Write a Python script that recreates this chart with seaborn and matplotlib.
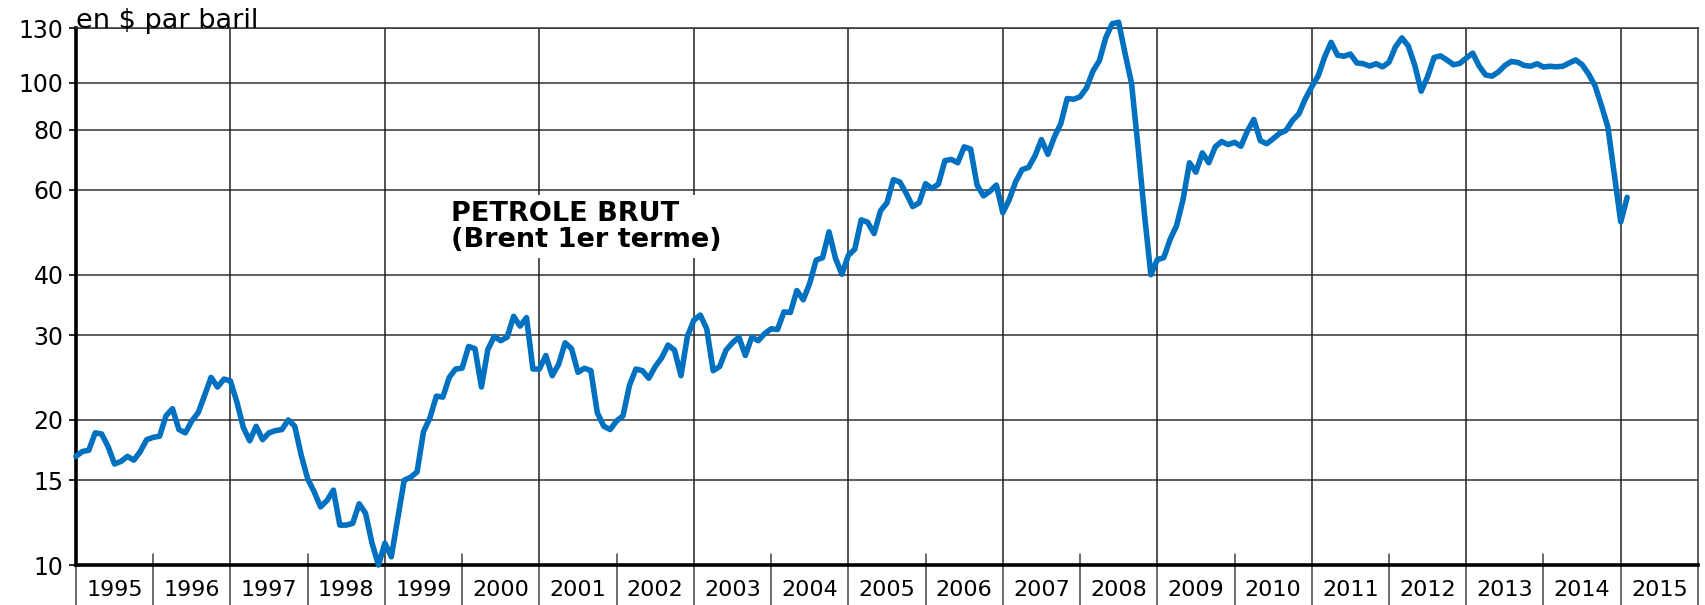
import numpy as np
import pandas as pd
import matplotlib
matplotlib.use('Agg')
import matplotlib.pyplot as plt
import seaborn as sns

sns.set_style('white')
plt.rcParams['font.family'] = ['DejaVu Sans']
plt.rcParams['text.color'] = 'black'
plt.rcParams['xtick.labelcolor'] = 'black'
plt.rcParams['ytick.labelcolor'] = 'black'

# Brent monthly prices, $ per barrel, Jan 1995 -> Feb 2015
p1995 = [16.8, 17.2, 17.3, 18.8, 18.7, 17.6, 16.2, 16.4, 16.8, 16.5, 17.2, 18.2]
p1996 = [18.4, 18.5, 20.4, 21.1, 19.1, 18.8, 19.9, 20.7, 22.5, 24.5, 23.4, 24.3]
p1997 = [24.1, 21.8, 19.3, 18.1, 19.4, 18.2, 18.8, 19.0, 19.1, 20.0, 19.4, 16.9]
p1998 = [15.1, 14.2, 13.2, 13.6, 14.3, 12.1, 12.1, 12.2, 13.4, 12.8, 11.1, 10.0]
p1999 = [11.1, 10.4, 12.5, 15.0, 15.2, 15.6, 18.9, 20.2, 22.4, 22.3, 24.5, 25.5]
p2000 = [25.6, 28.4, 28.1, 23.4, 28.0, 29.8, 29.2, 29.7, 32.8, 31.3, 32.6, 25.5]
p2001 = [25.5, 27.2, 24.7, 26.1, 28.9, 28.1, 25.1, 25.6, 25.3, 20.7, 19.4, 19.1]
p2002 = [19.9, 20.4, 23.6, 25.5, 25.3, 24.4, 25.8, 26.9, 28.6, 27.9, 24.7, 29.8]
p2003 = [32.2, 33.0, 30.9, 25.3, 25.8, 27.9, 28.9, 29.7, 27.2, 29.7, 29.2, 30.2]
p2004 = [30.9, 30.8, 33.5, 33.4, 37.1, 35.5, 38.4, 42.9, 43.4, 49.1, 43.3, 40.1]
p2005 = [43.9, 45.2, 52.0, 51.4, 48.7, 54.3, 56.4, 63.0, 62.3, 59.0, 55.4, 56.4]
p2006 = [61.8, 60.4, 61.7, 69.0, 69.4, 68.3, 73.7, 72.9, 61.4, 58.3, 59.6, 61.4]
p2007 = [53.8, 57.3, 62.4, 66.1, 66.8, 70.6, 76.3, 71.1, 77.2, 82.3, 92.8, 92.5]
p2008 = [93.6, 97.6, 105.8, 111.2, 124.2, 132.7, 133.6, 115.0, 99.8, 73.8, 53.5, 40.0]
p2009 = [43.0, 43.4, 47.4, 50.6, 57.3, 68.3, 65.3, 71.6, 68.3, 73.7, 75.6, 74.5]
p2010 = [75.3, 73.9, 79.5, 84.0, 75.9, 74.8, 76.6, 78.6, 79.7, 83.6, 86.3, 92.7]
p2011 = [98.2, 103.5, 113.2, 121.4, 114.2, 113.6, 114.8, 110.0, 109.6, 108.4, 109.6, 108.0]
p2012 = [110.4, 118.8, 124.0, 119.3, 108.8, 96.1, 103.1, 112.9, 113.8, 111.6, 109.1, 109.8]
p2013 = [112.6, 115.3, 108.4, 103.9, 103.3, 105.4, 108.7, 110.8, 110.3, 108.7, 108.3, 109.6]
p2014 = [107.9, 108.3, 108.0, 108.3, 110.0, 111.6, 109.1, 104.4, 98.7, 89.8, 81.0, 64.5]
p2015 = [51.5, 57.9]

years = list(range(1995, 2016))
y_ticks = [10, 15, 20, 30, 40, 60, 80, 100, 130]

prices = (p1995 + p1996 + p1997 + p1998 + p1999 + p2000 + p2001 + p2002 + p2003
          + p2004 + p2005 + p2006 + p2007 + p2008 + p2009 + p2010 + p2011
          + p2012 + p2013 + p2014 + p2015)
df = pd.DataFrame({'date': years[0] + np.arange(len(prices)) / 12, 'prix': prices})

fig = plt.figure(figsize=(17.06, 6.05), dpi=100)
ax = fig.add_axes([0.0445, 0.0661, 0.9508, 0.8876])

# grid: horizontal at every labelled level, vertical full lines every 2 years
for v in y_ticks[1:]:
    ax.axhline(v, color='#333333', lw=1.1, zorder=1)
for yr in years[2::2]:
    ax.axvline(yr, color='#222222', lw=1.1, zorder=1)
for yr in years[1::2]:
    ax.axvline(yr, ymax=0.02, color='#444444', lw=1.1, zorder=1)

sns.lineplot(data=df, x='date', y='prix', ax=ax, color='#0070C0', lw=4.0,
             zorder=3, clip_on=False)

ax.set_yscale('log')
ax.set_xlim(1995, 2016)
ax.set_ylim(10, 130)
ax.set_xlabel('')
ax.set_ylabel('')

ax.set_yticks(y_ticks)
ax.set_yticklabels([str(v) for v in y_ticks])
ax.yaxis.set_minor_locator(matplotlib.ticker.NullLocator())
ax.tick_params(axis='y', which='major', direction='out', length=5, width=1.2,
               color='black', labelsize=17, pad=4, left=True)

# year separators below the axis, labels centred in each year
ax.set_xticks(years + [2016])
ax.set_xticklabels([])
ax.set_xticks([y + 0.5 for y in years], [str(y) for y in years], minor=True)
ax.tick_params(axis='x', which='major', direction='out', length=29, width=1.1,
               color='#444444', bottom=True)
ax.tick_params(axis='x', which='minor', length=0, labelsize=16, pad=11)

for side in ['left', 'bottom']:
    ax.spines[side].set_linewidth(2.6)
    ax.spines[side].set_color('black')
for side in ['right', 'top']:
    ax.spines[side].set_linewidth(1.1)
    ax.spines[side].set_color('#333333')

ax.text(0.0, 1.0, 'en $ par baril', transform=ax.transAxes, fontsize=19.5,
        ha='left', va='baseline')
ax.text(1999.85, 57, 'PETROLE BRUT\n(Brent 1er terme)', fontsize=19.5,
        fontweight='bold', ha='left', va='top', linespacing=1.0,
        bbox=dict(facecolor='white', edgecolor='none', pad=4), zorder=2)

fig.savefig('out.png', dpi=100)
